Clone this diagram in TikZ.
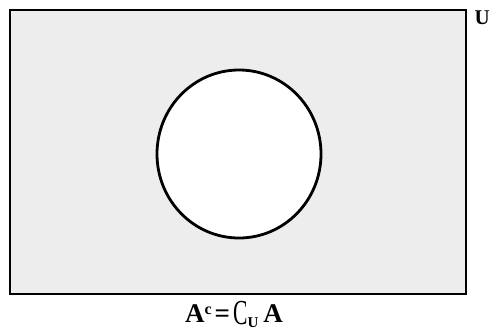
\documentclass[tikz,border=0pt]{standalone}
\usepackage{fontspec}
\setmainfont{Liberation Serif}
\usepackage{graphicx}
\usetikzlibrary{shapes.geometric}
\begin{document}
\begin{tikzpicture}[x=1pt,y=-1pt,
  frame/.style={draw=black,line width=2.6pt},
  setline/.style={draw=black,line width=2.8pt},
  shade/.style={fill=black!7}]
\useasboundingbox (0,0) rectangle (490,335);
% shaded universe minus circle
\path[shade,even odd rule] (10,10) rectangle (466,294) (239,154) ellipse (82 and 84);
\node[frame,minimum width=456pt,minimum height=284pt,inner sep=0pt] (U) at (238,152) {};
\node[setline,ellipse,minimum width=164pt,minimum height=168pt,inner sep=0pt] (A) at (239,154) {};
\node[font=\fontsize{21}{21}\selectfont\bfseries,anchor=east,inner sep=0pt] (ulab) at (490,18) {U};
\node[font=\fontsize{27}{27}\selectfont\bfseries,inner sep=0pt] (eq) at (234,314)
  {A\raisebox{8pt}{\fontsize{16}{16}\selectfont c}\hspace{3pt}=\hspace{3pt}\raisebox{-2pt}{\scalebox{0.8}[1.3]{\mdseries C}}\raisebox{-5pt}{\fontsize{15}{15}\selectfont U}\hspace{5pt}A};
\end{tikzpicture}
\end{document}
